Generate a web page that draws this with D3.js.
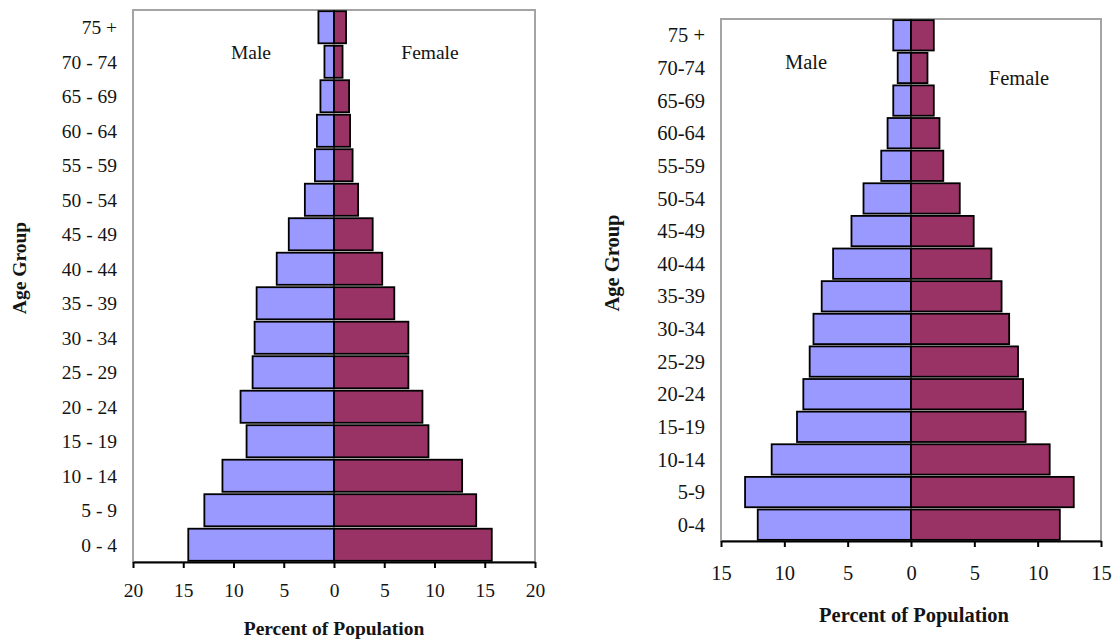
<!DOCTYPE html>
<html>
<head>
<meta charset="utf-8">
<script src="https://cdn.jsdelivr.net/npm/d3@7"></script>
<style>
  html, body { margin: 0; padding: 0; background: #ffffff; }
  svg { display: block; }
  text { font-family: "Liberation Serif", "Times New Roman", serif; fill: #141414; }
</style>
</head>
<body>
<svg id="chart" width="1119" height="640"></svg>
<script>
// Population pyramid A
const ageGroupsA = ["0 - 4", "5 - 9", "10 - 14", "15 - 19", "20 - 24", "25 - 29", "30 - 34", "35 - 39",
                    "40 - 44", "45 - 49", "50 - 54", "55 - 59", "60 - 64", "65 - 69", "70 - 74", "75 +"];
const maleA   = [14.5, 12.9, 11.1, 8.7, 9.3, 8.1, 7.9, 7.7, 5.7, 4.5, 2.9, 1.9, 1.7, 1.35, 0.95, 1.55];
const femaleA = [15.7, 14.15, 12.75, 9.4, 8.8, 7.4, 7.4, 6.0, 4.8, 3.85, 2.4, 1.85, 1.6, 1.5, 0.85, 1.2];
const ticksA  = [-20, -15, -10, -5, 0, 5, 10, 15, 20];

// Population pyramid B
const ageGroupsB = ["0-4", "5-9", "10-14", "15-19", "20-24", "25-29", "30-34", "35-39",
                    "40-44", "45-49", "50-54", "55-59", "60-64", "65-69", "70-74", "75 +"];
const maleB   = [12.1, 13.1, 11.0, 9.0, 8.5, 8.0, 7.7, 7.05, 6.15, 4.7, 3.75, 2.35, 1.85, 1.4, 1.05, 1.4];
const femaleB = [11.75, 12.85, 10.95, 9.05, 8.85, 8.45, 7.75, 7.15, 6.35, 4.95, 3.85, 2.55, 2.25, 1.8, 1.3, 1.8];
const ticksB  = [-15, -10, -5, 0, 5, 10, 15];

const svg = d3.select("#chart");

function pyramid(opt) {
  const g = svg.append("g");
  const x = d3.scaleLinear().domain([-opt.max, opt.max]).range([opt.left, opt.right]);
  const y = d3.scaleBand()
    .domain(opt.ages.slice().reverse())
    .range([opt.top, opt.bottom])
    .paddingInner(0.07)
    .paddingOuter(0.035);
  const band = d3.scaleBand().domain(opt.ages.slice().reverse()).range([opt.top, opt.bottom]);

  // plot frame
  g.append("rect")
    .attr("x", opt.left).attr("y", opt.top)
    .attr("width", opt.right - opt.left).attr("height", opt.bottom - opt.top)
    .attr("fill", "none").attr("stroke", "#a4a4a4").attr("stroke-width", 2);

  const rows = opt.ages.map((a, i) => ({ age: a, m: opt.male[i], f: opt.female[i] }));

  g.selectAll("rect.male").data(rows).join("rect")
    .attr("class", "male")
    .attr("x", d => x(-d.m)).attr("y", d => y(d.age))
    .attr("width", d => x(0) - x(-d.m)).attr("height", y.bandwidth())
    .attr("fill", "#9999ff").attr("stroke", "#000").attr("stroke-width", 1.8);

  g.selectAll("rect.female").data(rows).join("rect")
    .attr("class", "female")
    .attr("x", x(0)).attr("y", d => y(d.age))
    .attr("width", d => x(d.f) - x(0)).attr("height", y.bandwidth())
    .attr("fill", "#993366").attr("stroke", "#000").attr("stroke-width", 1.8);

  // x axis
  const ax = g.append("g")
    .attr("transform", `translate(0,${opt.bottom})`)
    .call(d3.axisBottom(x).tickValues(opt.ticks).tickFormat(d => Math.abs(d))
      .tickSize(6).tickPadding(opt.tickPad).tickSizeOuter(0));
  ax.select(".domain").attr("stroke", "#000").attr("stroke-width", 2);
  ax.selectAll(".tick line").attr("stroke", "#000").attr("stroke-width", 2);
  ax.selectAll(".tick text")
    .attr("fill", "#141414")
    .style("font-family", '"Liberation Serif", "Times New Roman", serif')
    .style("font-size", opt.fs + "px");

  // age labels
  g.selectAll("text.age").data(opt.ages).join("text")
    .attr("class", "age")
    .attr("x", opt.labelX)
    .attr("y", d => band(d) + band.bandwidth() / 2)
    .attr("dy", "0.35em")
    .attr("text-anchor", "end")
    .style("font-size", opt.fs + "px")
    .text(d => d);

  // axis titles
  g.append("text")
    .attr("x", x(0) + opt.titleDx).attr("y", opt.titleY)
    .attr("dy", "0.35em").attr("text-anchor", "middle")
    .style("font-size", opt.fs + "px").style("font-weight", "bold")
    .text("Percent of Population");

  g.append("text")
    .attr("transform", `translate(${opt.yTitleX},${opt.yTitleY}) rotate(-90)`)
    .attr("dy", "0.35em").attr("text-anchor", "middle")
    .style("font-size", opt.fs + "px").style("font-weight", "bold")
    .text("Age Group");

  // sex labels
  g.append("text")
    .attr("x", opt.maleLabel[0]).attr("y", opt.maleLabel[1])
    .attr("dy", "0.35em").attr("text-anchor", "middle")
    .style("font-size", opt.fs + "px").text("Male");
  g.append("text")
    .attr("x", opt.femaleLabel[0]).attr("y", opt.femaleLabel[1])
    .attr("dy", "0.35em").attr("text-anchor", "middle")
    .style("font-size", opt.fs + "px").text("Female");
}

pyramid({
  ages: ageGroupsA, male: maleA, female: femaleA, ticks: ticksA, max: 20,
  left: 133, right: 535, top: 10, bottom: 562,
  tickPad: 15, fs: 19.5, labelX: 117,
  titleY: 628, titleDx: 0, yTitleX: 19, yTitleY: 268,
  maleLabel: [251, 52], femaleLabel: [430, 52]
});

pyramid({
  ages: ageGroupsB, male: maleB, female: femaleB, ticks: ticksB, max: 15,
  left: 721, right: 1101, top: 19, bottom: 541,
  tickPad: 18, fs: 20.5, labelX: 705,
  titleY: 615, titleDx: 3, yTitleX: 612, yTitleY: 263,
  maleLabel: [806, 62], femaleLabel: [1019, 78]
});
</script>
</body>
</html>
